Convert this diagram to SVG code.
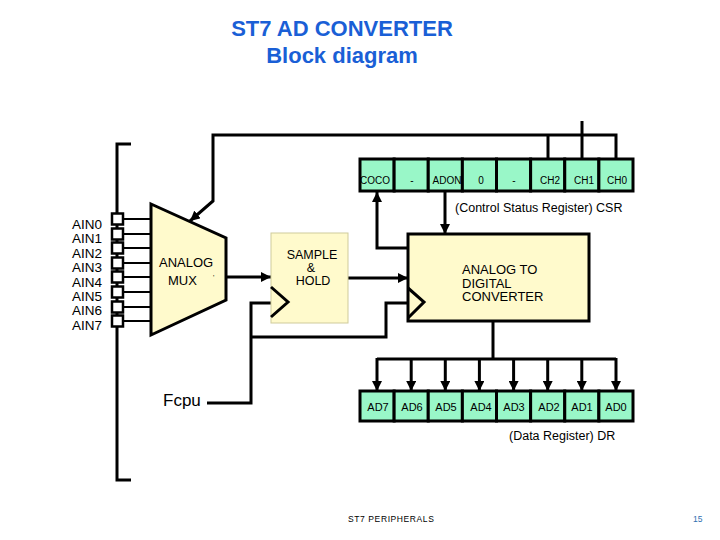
<svg xmlns="http://www.w3.org/2000/svg" width="720" height="540" viewBox="0 0 720 540">
<style>
text{font-family:"Liberation Sans",Arial,sans-serif;fill:#000}
.title{font-size:22px;font-weight:bold;fill:#1a5fd6}
.w{fill:none;stroke:#000;stroke-width:3}
.thin{fill:none;stroke:#000;stroke-width:2}
.yel{fill:#fffacc}
.reg{fill:#99f7c8;stroke:#000;stroke-width:3}
.rl{font-size:10px;text-anchor:middle}
.dl{font-size:11px;text-anchor:middle}
.pin{fill:#fff;stroke:#000;stroke-width:2.5}
.ain{font-size:13.5px}
.blk{font-size:13px}
.sh{font-size:12.5px;text-anchor:middle}
</style>
<defs>
<marker id="ah" markerUnits="userSpaceOnUse" markerWidth="10" markerHeight="10" refX="10" refY="5" orient="auto">
<path d="M0,0 L10,5 L0,10 z" fill="#000"/>
</marker>
</defs>
<rect width="720" height="540" fill="#fff"/>
<g id="title">
<text class="title" x="342" y="36" text-anchor="middle">ST7 AD CONVERTER</text>
<text class="title" x="342" y="63" text-anchor="middle">Block diagram</text>
</g>
<g id="connectors">
<polyline class="w" points="131,144 117,144 117,480 131,480"/>
<g class="thin">
<line x1="124" y1="219" x2="151" y2="219"/>
<line x1="124" y1="234" x2="151" y2="234"/>
<line x1="124" y1="248" x2="151" y2="248"/>
<line x1="124" y1="263" x2="151" y2="263"/>
<line x1="124" y1="277" x2="151" y2="277"/>
<line x1="124" y1="292" x2="151" y2="292"/>
<line x1="124" y1="307" x2="151" y2="307"/>
<line x1="124" y1="321" x2="151" y2="321"/>
</g>
<polyline class="w" points="616,159 616,135 213,135 213,201 190,221" marker-end="url(#ah)"/>
<line class="w" x1="548" y1="135" x2="548" y2="159"/>
<line class="w" x1="582" y1="121" x2="582" y2="159"/>
<line class="w" x1="226" y1="277" x2="271" y2="277" marker-end="url(#ah)"/>
<line class="w" x1="348" y1="278" x2="408" y2="278" marker-end="url(#ah)"/>
<polyline class="w" points="408,248 377,248 377,192" marker-end="url(#ah)"/>
<line class="w" x1="445" y1="191" x2="445" y2="234" marker-end="url(#ah)"/>
<polyline class="w" points="207,403 251,403 251,303 272,303"/>
<polyline class="w" points="251,337 386,337 386,303 409,303"/>
<line class="w" x1="493" y1="321" x2="493" y2="359"/>
<line class="w" x1="377" y1="359" x2="616" y2="359"/>
<g class="w">
<line x1="377" y1="358" x2="377" y2="391" marker-end="url(#ah)"/>
<line x1="411.2" y1="359" x2="411.2" y2="391" marker-end="url(#ah)"/>
<line x1="445.3" y1="359" x2="445.3" y2="391" marker-end="url(#ah)"/>
<line x1="479.4" y1="359" x2="479.4" y2="391" marker-end="url(#ah)"/>
<line x1="513.6" y1="359" x2="513.6" y2="391" marker-end="url(#ah)"/>
<line x1="547.7" y1="359" x2="547.7" y2="391" marker-end="url(#ah)"/>
<line x1="581.8" y1="359" x2="581.8" y2="391" marker-end="url(#ah)"/>
<line x1="616" y1="358" x2="616" y2="391" marker-end="url(#ah)"/>
</g>
</g>
<g id="inputs">
<rect class="pin" x="112" y="213.5" width="11" height="11"/>
<rect class="pin" x="112" y="228.5" width="11" height="11"/>
<rect class="pin" x="112" y="242.5" width="11" height="11"/>
<rect class="pin" x="112" y="257.5" width="11" height="11"/>
<rect class="pin" x="112" y="271.5" width="11" height="11"/>
<rect class="pin" x="112" y="286.5" width="11" height="11"/>
<rect class="pin" x="112" y="301.5" width="11" height="11"/>
<rect class="pin" x="112" y="315.5" width="11" height="11"/>
<text class="ain" x="72" y="229">AIN0</text>
<text class="ain" x="72" y="243.4">AIN1</text>
<text class="ain" x="72" y="257.8">AIN2</text>
<text class="ain" x="72" y="272.2">AIN3</text>
<text class="ain" x="72" y="286.6">AIN4</text>
<text class="ain" x="72" y="301">AIN5</text>
<text class="ain" x="72" y="315.4">AIN6</text>
<text class="ain" x="72" y="329.8">AIN7</text>
</g>
<g id="mux">
<polygon class="yel" points="151,204 226,238 226,300 151,335" stroke="#000" stroke-width="3" stroke-linejoin="miter"/>
<text class="blk" x="159" y="267">ANALOG</text>
<text class="blk" x="168" y="285">MUX</text>
<text x="213" y="280" font-size="7">'</text>
</g>
<g id="sample-hold">
<rect class="yel" x="271" y="233" width="77" height="90" stroke="#cfcb9c" stroke-width="1"/>
<polyline class="w" points="271,287 288,302 271,317" stroke-width="3.5"/>
<text class="sh" x="312" y="259">SAMPLE</text>
<text class="sh" x="311" y="272">&amp;</text>
<text class="sh" x="313" y="285">HOLD</text>
</g>
<g id="adc">
<rect class="yel" x="408" y="234" width="181" height="87" stroke="#000" stroke-width="3"/>
<polyline class="w" points="408,288 424,302 408,318" stroke-width="3.5"/>
<text class="blk" x="462" y="274">ANALOG TO</text>
<text class="blk" x="462" y="287.5">DIGITAL</text>
<text class="blk" x="462" y="301">CONVERTER</text>
</g>
<g id="csr">
<rect class="reg" x="360" y="159" width="34.125" height="32"/>
<rect class="reg" x="394.125" y="159" width="34.125" height="32"/>
<rect class="reg" x="428.25" y="159" width="34.125" height="32"/>
<rect class="reg" x="462.375" y="159" width="34.125" height="32"/>
<rect class="reg" x="496.5" y="159" width="34.125" height="32"/>
<rect class="reg" x="530.625" y="159" width="34.125" height="32"/>
<rect class="reg" x="564.75" y="159" width="34.125" height="32"/>
<rect class="reg" x="598.875" y="159" width="34.125" height="32"/>
<text class="rl" x="375" y="184">COCO</text>
<text class="rl" x="412" y="184">-</text>
<text class="rl" x="447" y="184">ADON</text>
<text class="rl" x="481" y="184">0</text>
<text class="rl" x="514" y="184">-</text>
<text class="rl" x="550" y="184">CH2</text>
<text class="rl" x="584" y="184">CH1</text>
<text class="rl" x="617" y="184">CH0</text>
<text x="455" y="212" font-size="12.5">(Control Status Register) CSR</text>
</g>
<g id="fcpu">
<text x="163" y="406" font-size="17">Fcpu</text>
</g>
<g id="dr">
<rect class="reg" x="360" y="391" width="34.125" height="30"/>
<rect class="reg" x="394.125" y="391" width="34.125" height="30"/>
<rect class="reg" x="428.25" y="391" width="34.125" height="30"/>
<rect class="reg" x="462.375" y="391" width="34.125" height="30"/>
<rect class="reg" x="496.5" y="391" width="34.125" height="30"/>
<rect class="reg" x="530.625" y="391" width="34.125" height="30"/>
<rect class="reg" x="564.75" y="391" width="34.125" height="30"/>
<rect class="reg" x="598.875" y="391" width="34.125" height="30"/>
<text class="dl" x="378" y="411">AD7</text>
<text class="dl" x="412" y="411">AD6</text>
<text class="dl" x="446" y="411">AD5</text>
<text class="dl" x="481" y="411">AD4</text>
<text class="dl" x="514" y="411">AD3</text>
<text class="dl" x="549" y="411">AD2</text>
<text class="dl" x="582" y="411">AD1</text>
<text class="dl" x="616" y="411">AD0</text>
<text x="509" y="440" font-size="12.5">(Data Register) DR</text>
</g>
<g id="footer">
<text x="348" y="522" font-size="8.5" letter-spacing="0.6">ST7 PERIPHERALS</text>
<text x="693" y="522" font-size="8.5" style="fill:#2f6fb0">15</text>
</g>
</svg>
